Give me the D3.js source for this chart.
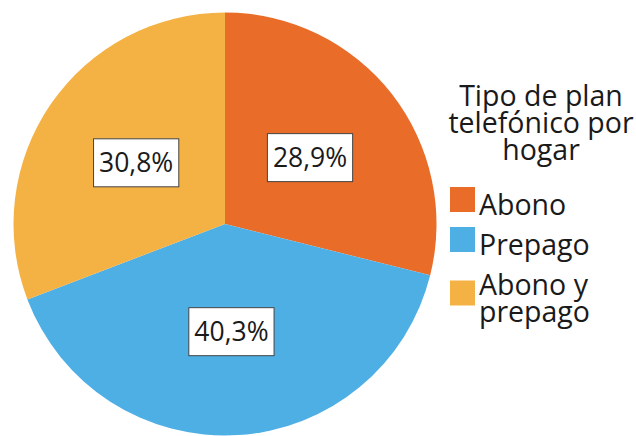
<!DOCTYPE html>
<html>
<head>
<meta charset="utf-8">
<script src="https://cdn.jsdelivr.net/npm/d3@7"></script>
<style>
  body { margin: 0; background: #fff; }
  svg { display: block; font-family: "Open Sans", sans-serif; }
</style>
</head>
<body>
<svg id="chart" width="636" height="436"></svg>
<script>
// chart data
var categories = ["Abono", "Prepago", "Abono y prepago"];
var shares = [28.9, 40.3, 30.8];
var labels = ["28,9%", "40,3%", "30,8%"];
var legendLines = [["Abono"], ["Prepago"], ["Abono y", "prepago"]];
var legendTitle = ["Tipo de plan", "telefónico por", "hogar"];
var colors = ["#E96C28", "#4EAFE5", "#F4B245"];

var width = 636, height = 436;
var cx = 225, cy = 224, radius = 211.5;

var svg = d3.select("#chart");

var color = d3.scaleOrdinal().domain(categories).range(colors);

var data = categories.map(function (c, i) {
    return { cat: c, value: shares[i], label: labels[i] };
});

var pie = d3.pie().sort(null).value(function (d) { return d.value; });
var arc = d3.arc().innerRadius(0).outerRadius(radius);
var labelArc = d3.arc().innerRadius(radius * 0.51).outerRadius(radius * 0.51);

var g = svg.append("g").attr("transform", "translate(" + cx + "," + cy + ")");
var arcs = pie(data);

g.selectAll("path.slice")
    .data(arcs)
    .join("path")
    .attr("class", "slice")
    .attr("d", arc)
    .attr("fill", function (d) { return color(d.data.cat); });

// boxed percentage labels
var lab = g.selectAll("g.lab")
    .data(arcs)
    .join("g")
    .attr("class", "lab")
    .attr("transform", function (d) { return "translate(" + labelArc.centroid(d) + ")"; });

lab.append("rect");
lab.append("text")
    .attr("text-anchor", "middle")
    .attr("dy", "0.36em")
    .attr("font-size", 26.5)
    .attr("fill", "#1a1a1a")
    .text(function (d) { return d.data.label; });

lab.each(function () {
    var el = d3.select(this);
    var bb = el.select("text").node().getBBox();
    var padX = 5.5, boxH = 48;
    el.select("rect")
        .attr("x", bb.x - padX)
        .attr("y", -boxH / 2)
        .attr("width", bb.width + padX * 2)
        .attr("height", boxH)
        .attr("fill", "#fff")
        .attr("stroke", "#444")
        .attr("stroke-width", 1);
});

// legend
var legend = svg.append("g");
var titleX = 541, lineH = 27, fs = 28.5;

legend.append("text")
    .attr("text-anchor", "middle")
    .attr("font-size", fs)
    .attr("fill", "#1a1a1a")
    .selectAll("tspan")
    .data(legendTitle)
    .join("tspan")
    .attr("x", titleX)
    .attr("y", function (d, i) { return 106 + i * lineH; })
    .text(function (d) { return d; });

var base = 215;
legendLines.forEach(function (lines, i) {
    var first = base;
    var last = base + (lines.length - 1) * lineH;
    var sq = 25;
    var mid = (first + last) / 2 - 15.5;
    legend.append("rect")
        .attr("x", 450)
        .attr("y", mid - sq / 2)
        .attr("width", sq)
        .attr("height", sq)
        .attr("fill", color(categories[i]));
    legend.append("text")
        .attr("font-size", fs)
        .attr("fill", "#1a1a1a")
        .selectAll("tspan")
        .data(lines)
        .join("tspan")
        .attr("x", 479)
        .attr("y", function (d, j) { return first + j * lineH; })
        .text(function (d) { return d; });
    base = last + 40;
});
</script>
</body>
</html>
